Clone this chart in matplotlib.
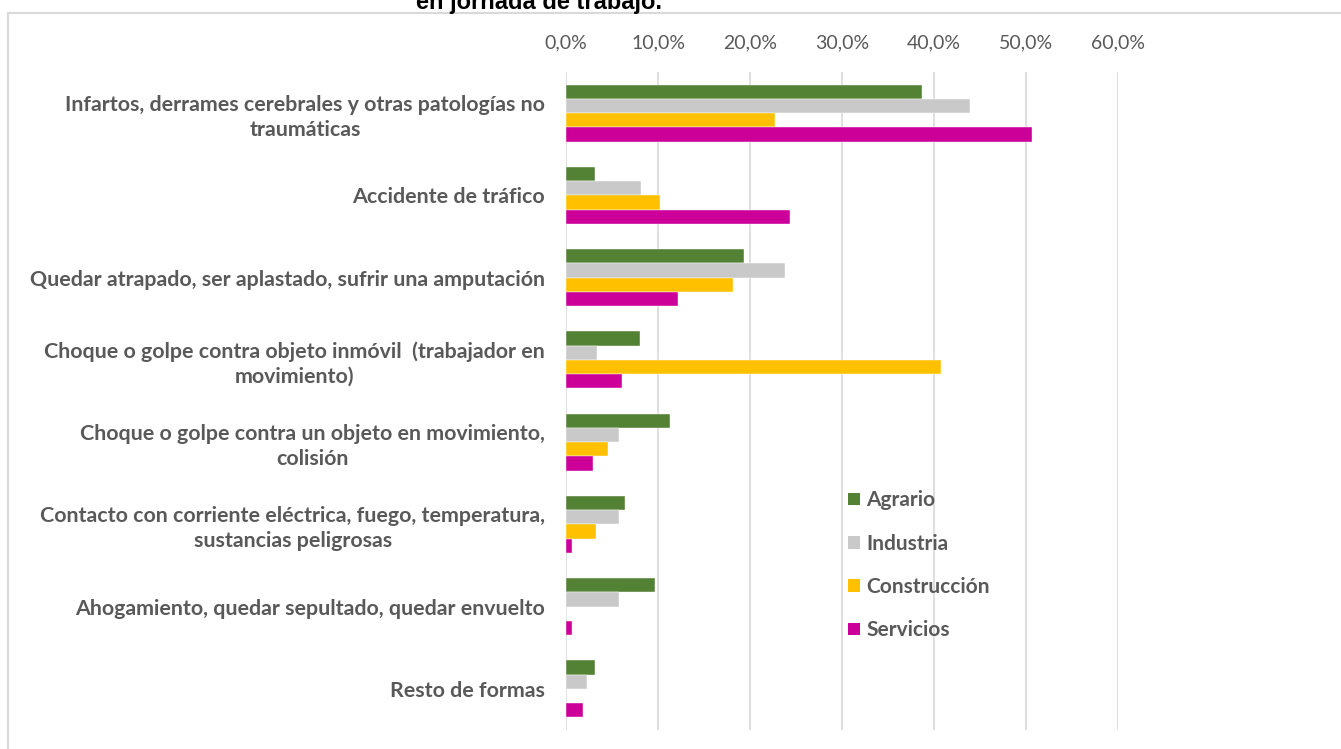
import matplotlib.pyplot as plt
import numpy as np
from matplotlib.lines import Line2D
from matplotlib.patches import Patch
from matplotlib.ticker import FuncFormatter

categories = [
    "Infartos, derrames cerebrales y otras patologías no\ntraumáticas",
    "Accidente de tráfico",
    "Quedar atrapado, ser aplastado, sufrir una amputación",
    "Choque o golpe contra objeto inmóvil  (trabajador en\nmovimiento)",
    "Choque o golpe contra un objeto en movimiento,\ncolisión",
    "Contacto con corriente eléctrica, fuego, temperatura,\nsustancias peligrosas",
    "Ahogamiento, quedar sepultado, quedar envuelto",
    "Resto de formas",
]
series_names = ["Agrario", "Industria", "Construcción", "Servicios"]
agrario = [38.7, 3.2, 19.3, 8.0, 11.3, 6.4, 9.7, 3.2]
industria = [43.9, 8.2, 23.8, 3.4, 5.8, 5.8, 5.8, 2.3]
construccion = [22.7, 10.2, 18.1, 40.8, 4.6, 3.3, 0.0, 0.0]
servicios = [50.7, 24.3, 12.2, 6.1, 2.9, 0.7, 0.7, 1.9]
x_ticks = [0, 10, 20, 30, 40, 50, 60]

colors = ["#548235", "#C9C9C9", "#FFC000", "#CC0099"]
text_color = "#595959"
W, H = 1341, 749

fig = plt.figure(figsize=(W / 100, H / 100), dpi=100)
# plot area in pixel coords: x 566..1118, y 72..730
ax = fig.add_axes([566 / W, 1 - 730 / H, (1118 - 566) / W, (730 - 72) / H])

y = np.arange(len(categories))
h = 0.173
for i, (name, vals) in enumerate(zip(series_names, [agrario, industria, construccion, servicios])):
    ax.barh(y + (i - 1.5) * h, vals, height=h, color=colors[i], label=name,
            edgecolor="white", linewidth=0.3)

ax.set_xlim(0, 60)
ax.set_ylim(len(categories) - 0.5, -0.5)
ax.xaxis.tick_top()
ax.set_xticks(x_ticks)
ax.xaxis.set_major_formatter(FuncFormatter(lambda v, p: f"{v:.1f}%".replace(".", ",")))
ax.tick_params(axis="x", length=0, pad=15, labelsize=14, labelcolor=text_color)
for lab in ax.get_xticklabels():
    lab.set_family("Lato")

ax.set_yticks(y)
ax.set_yticklabels(categories)
ax.tick_params(axis="y", length=0, pad=15)
for lab in ax.get_yticklabels():
    lab.set_family("Lato")
    lab.set_fontweight("bold")
    lab.set_fontsize(15.4)
    lab.set_color(text_color)
    lab.set_multialignment("center")
    lab.set_linespacing(1.3)

ax.grid(axis="x", color="#D9D9D9", linewidth=1.2)
ax.set_axisbelow(True)
for s in ax.spines.values():
    s.set_visible(False)

handles = [Patch(facecolor=c, edgecolor="none") for c in colors]
leg = fig.legend(handles, series_names, loc="upper left",
                 bbox_to_anchor=(840 / W, 1 - 482 / H), frameon=False,
                 handlelength=0.55, handleheight=0.55, handletextpad=0.3,
                 labelspacing=1.12, borderaxespad=0,
                 prop={"family": "Lato", "weight": "bold", "size": 15})
for t in leg.get_texts():
    t.set_color(text_color)

# chart frame (cut by the picture edge)
fig.add_artist(Line2D([8 / W, 1.0], [1 - 13 / H, 1 - 13 / H], transform=fig.transFigure,
                      color="#D9D9D9", linewidth=1.5))
fig.add_artist(Line2D([8 / W, 8 / W], [0, 1 - 13 / H], transform=fig.transFigure,
                      color="#D9D9D9", linewidth=1.5))

fig.text(539 / W, 1 - 9 / H, "en jornada de trabajo.", ha="center", va="baseline",
         fontsize=17, fontweight="bold", family="Liberation Sans", color="black")

fig.savefig("out.png", dpi=100)
